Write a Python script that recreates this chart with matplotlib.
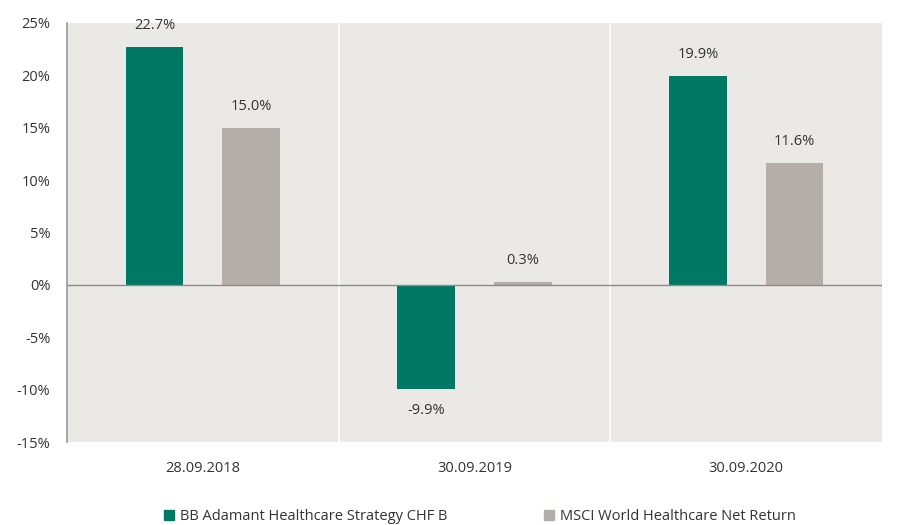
import matplotlib
matplotlib.use("Agg")
import matplotlib.pyplot as plt
import numpy as np
from matplotlib.patches import Patch

dates = ["28.09.2018", "30.09.2019", "30.09.2020"]
fund_returns = [22.7, -9.9, 19.9]
index_returns = [15.0, 0.3, 11.6]
series_names = ["BB Adamant Healthcare Strategy CHF B", "MSCI World Healthcare Net Return"]
y_ticks = [-15, -10, -5, 0, 5, 10, 15, 20, 25]

GREEN = "#007864"
GREY = "#b5aea8"
BG = "#ebe9e5"
TEXT = "#333333"

plt.rcParams["font.family"] = ["Open Sans", "DejaVu Sans"]

fig = plt.figure(figsize=(9.14, 5.25), dpi=100)
ax = fig.add_axes([67 / 914, 83 / 525, 815 / 914, 419 / 525])
ax.set_facecolor(BG)

x = np.arange(len(dates))
width = 0.213
offset = 0.178
bars_fund = ax.bar(x - offset, fund_returns, width, color=GREEN, zorder=3)
bars_index = ax.bar(x + offset, index_returns, width, color=GREY, zorder=3)

for bars in (bars_fund, bars_index):
    for bar in bars:
        val = bar.get_height()
        sign = 1 if val >= 0 else -1
        ax.annotate(f"{val:.1f}%", (bar.get_x() + bar.get_width() / 2, val),
                    xytext=(0, sign * 15.5), textcoords="offset points",
                    ha="center", va="center", fontsize=10.5, color=TEXT)

# white separators between categories
for sep in [0.5, 1.5]:
    ax.axvline(sep, color="white", lw=1.2, zorder=1)
ax.axhline(0, color="#8c8c8c", lw=1.0, zorder=4)

ax.set_xlim(-0.5, 2.5)
ax.set_ylim(-15, 25)
ax.set_yticks(y_ticks)
ax.set_yticklabels([f"{t}%" for t in y_ticks])
ax.set_xticks(x)
ax.set_xticklabels(dates)
ax.tick_params(axis="both", length=0, labelsize=10.5, colors=TEXT)
ax.tick_params(axis="y", pad=12)
ax.tick_params(axis="x", pad=14)

for side in ["top", "right", "bottom"]:
    ax.spines[side].set_visible(False)
ax.spines["left"].set_color("#9a9a9a")
ax.spines["left"].set_linewidth(1.2)

handles = [Patch(color=GREEN), Patch(color=GREY)]
fig.legend(handles, series_names, loc="center", bbox_to_anchor=(0.525, 0.016),
           ncol=2, frameon=False, fontsize=10.5, handlelength=0.7, handleheight=0.7,
           handletextpad=0.4, columnspacing=6.6, labelcolor=TEXT)

fig.savefig("out.png", dpi=100)
